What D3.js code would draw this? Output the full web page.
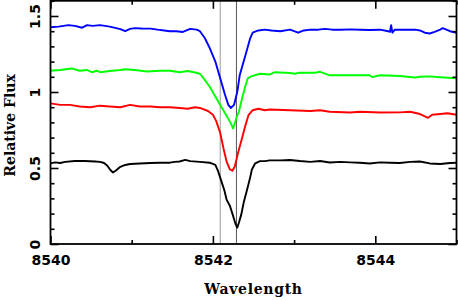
<!DOCTYPE html>
<html>
<head>
<meta charset="utf-8">
<script src="https://cdn.jsdelivr.net/npm/d3@7"></script>
<style>
  body { margin: 0; background: #fff; }
  .tick text { font-family: "DejaVu Sans", sans-serif; font-weight: bold; font-size: 14px; fill: #000; }
  .title { font-family: "DejaVu Serif", serif; font-weight: bold; font-size: 14px; }
</style>
</head>
<body>
<svg id="chart" width="458" height="300"></svg>
<script>
// spectra: [wavelength, relative flux]
var blueSpec = [[8540.00,1.426],[8540.10,1.43],[8540.22,1.44],[8540.30,1.435],[8540.39,1.423],[8540.45,1.44],[8540.52,1.435],[8540.61,1.44],
  [8540.73,1.43],[8540.86,1.414],[8540.92,1.40],[8540.98,1.415],[8541.04,1.42],[8541.12,1.418],[8541.23,1.417],[8541.32,1.41],
  [8541.40,1.405],[8541.47,1.40],[8541.55,1.40],[8541.63,1.395],[8541.72,1.415],[8541.80,1.41],[8541.84,1.40],[8541.90,1.355],
  [8541.96,1.29],[8542.03,1.20],[8542.09,1.09],[8542.15,0.98],[8542.19,0.915],[8542.22,0.895],[8542.26,0.915],[8542.30,1.0],
  [8542.33,1.11],[8542.40,1.24],[8542.46,1.355],[8542.49,1.39],[8542.56,1.405],[8542.64,1.41],[8542.72,1.405],[8542.83,1.40],
  [8542.95,1.41],[8543.05,1.39],[8543.12,1.405],[8543.20,1.41],[8543.30,1.41],[8543.38,1.415],[8543.47,1.41],[8543.57,1.41],
  [8543.69,1.412],[8543.81,1.41],[8543.93,1.408],[8544.06,1.41],[8544.16,1.40],[8544.18,1.395],[8544.195,1.44],[8544.21,1.39],
  [8544.24,1.41],[8544.30,1.41],[8544.43,1.41],[8544.49,1.41],[8544.55,1.405],[8544.61,1.39],[8544.67,1.385],[8544.73,1.395],
  [8544.80,1.41],[8544.83,1.42],[8544.92,1.40],[8545.00,1.39]];

var greenSpec = [[8540.00,1.14],[8540.12,1.145],[8540.26,1.155],[8540.36,1.14],[8540.45,1.145],[8540.51,1.13],[8540.57,1.14],
  [8540.61,1.13],[8540.73,1.138],[8540.86,1.145],[8540.92,1.15],[8541.04,1.145],[8541.19,1.135],[8541.35,1.14],[8541.47,1.14],
  [8541.59,1.13],[8541.69,1.138],[8541.78,1.128],[8541.84,1.12],[8541.90,1.08],[8541.96,1.035],[8542.03,0.97],[8542.09,0.915],
  [8542.15,0.86],[8542.21,0.805],[8542.25,0.76],[8542.29,0.83],[8542.32,0.87],[8542.36,0.96],[8542.40,1.04],[8542.43,1.09],
  [8542.48,1.105],[8542.58,1.12],[8542.70,1.115],[8542.76,1.13],[8542.95,1.125],[8543.01,1.12],[8543.07,1.127],[8543.26,1.127],
  [8543.32,1.133],[8543.44,1.11],[8543.57,1.11],[8543.81,1.11],[8543.93,1.11],[8543.96,1.098],[8544.06,1.11],[8544.30,1.105],
  [8544.49,1.095],[8544.55,1.10],[8544.67,1.103],[8544.80,1.097],[8545.00,1.09]];

var redSpec = [[8540.00,0.925],[8540.12,0.915],[8540.24,0.915],[8540.36,0.905],[8540.49,0.90],[8540.61,0.91],[8540.73,0.905],
  [8540.86,0.90],[8540.98,0.915],[8541.10,0.905],[8541.23,0.905],[8541.35,0.90],[8541.47,0.90],[8541.59,0.895],[8541.69,0.89],
  [8541.78,0.90],[8541.84,0.895],[8541.94,0.875],[8542.00,0.85],[8542.04,0.81],[8542.09,0.73],[8542.13,0.63],[8542.17,0.54],
  [8542.21,0.49],[8542.24,0.482],[8542.27,0.51],[8542.31,0.60],[8542.35,0.68],[8542.40,0.78],[8542.44,0.85],[8542.49,0.88],
  [8542.56,0.89],[8542.64,0.88],[8542.70,0.885],[8542.95,0.88],[8543.20,0.875],[8543.32,0.88],[8543.44,0.87],[8543.69,0.865],
  [8543.81,0.87],[8544.06,0.865],[8544.30,0.866],[8544.43,0.87],[8544.55,0.855],[8544.65,0.83],[8544.70,0.85],[8544.80,0.855],
  [8544.89,0.86],[8545.00,0.85]];

var blackSpec = [[8540.00,0.53],[8540.055,0.537],[8540.12,0.533],[8540.18,0.54],[8540.30,0.546],[8540.42,0.546],[8540.55,0.543],
  [8540.61,0.54],[8540.66,0.533],[8540.70,0.515],[8540.74,0.485],[8540.77,0.47],[8540.81,0.485],[8540.86,0.508],[8540.92,0.52],
  [8540.98,0.526],[8541.10,0.53],[8541.23,0.533],[8541.35,0.535],[8541.47,0.535],[8541.53,0.54],[8541.59,0.543],[8541.66,0.553],
  [8541.72,0.545],[8541.84,0.54],[8541.96,0.535],[8542.03,0.52],[8542.06,0.485],[8542.10,0.42],[8542.14,0.355],[8542.17,0.29],
  [8542.21,0.25],[8542.24,0.2],[8542.26,0.165],[8542.28,0.13],[8542.30,0.108],[8542.32,0.14],[8542.35,0.195],[8542.38,0.275],
  [8542.42,0.355],[8542.46,0.44],[8542.48,0.49],[8542.52,0.53],[8542.58,0.545],[8542.64,0.545],[8542.70,0.55],[8542.83,0.55],
  [8542.95,0.553],[8543.07,0.546],[8543.20,0.54],[8543.32,0.546],[8543.44,0.536],[8543.57,0.54],[8543.69,0.537],[8543.81,0.535],
  [8543.93,0.53],[8544.06,0.537],[8544.18,0.535],[8544.30,0.533],[8544.43,0.54],[8544.55,0.543],[8544.67,0.53],[8544.80,0.526],
  [8544.92,0.533],[8545.00,0.535]];

var series = [
  { data: blueSpec, color: "#0000ff" },
  { data: greenSpec, color: "#00ff00" },
  { data: redSpec, color: "#ff0000" },
  { data: blackSpec, color: "#000000" }
];

var markerLines = [8542.09, 8542.29];
var markerColors = ["#999", "#555"];

var xMajor = [8540, 8542, 8544];
var xMinor = [8541, 8543, 8545];
var yMajor = [0, 0.5, 1, 1.5];
var yMinor = [0.1, 0.2, 0.3, 0.4, 0.6, 0.7, 0.8, 0.9, 1.1, 1.2, 1.3, 1.4, 1.6];

var svg = d3.select("#chart");

var x = d3.scaleLinear().domain([8540, 8545]).range([50.5, 456.5]);
var y = d3.scaleLinear().domain([0, 1.6]).range([244, 0.8]);

// vertical reference lines
svg.selectAll("line.marker")
  .data(markerLines)
  .enter().append("line")
  .attr("class", "marker")
  .attr("x1", function(d) { return x(d); })
  .attr("x2", function(d) { return x(d); })
  .attr("y1", y.range()[0])
  .attr("y2", y.range()[1])
  .attr("stroke", function(d, i) { return markerColors[i]; })
  .attr("stroke-width", 1);

var line = d3.line()
  .x(function(d) { return x(d[0]); })
  .y(function(d) { return y(d[1]); });

svg.selectAll("path.spec")
  .data(series)
  .enter().append("path")
  .attr("class", "spec")
  .attr("d", function(d) { return line(d.data); })
  .attr("fill", "none")
  .attr("stroke", function(d) { return d.color; })
  .attr("stroke-width", 1.9)
  .attr("stroke-linejoin", "round");

// ticks point inwards on all four sides
function ticks(axis, vals, size, tx, ty) {
  var g = svg.append("g")
    .attr("transform", "translate(" + tx + "," + ty + ")")
    .call(axis.tickValues(vals).tickSizeInner(size).tickSizeOuter(0));
  g.select(".domain").remove();
  g.selectAll(".tick line").attr("stroke", "#000").attr("stroke-width", 1.6);
  return g;
}

var bottom = ticks(d3.axisBottom(x).tickFormat(d3.format("d")).tickPadding(11), xMajor, -8, 0, y(0));
ticks(d3.axisBottom(x).tickFormat(""), xMinor, -4, 0, y(0));
ticks(d3.axisTop(x).tickFormat(""), xMajor, -8, 0, y(1.6));
ticks(d3.axisTop(x).tickFormat(""), xMinor, -4, 0, y(1.6));

var left = ticks(d3.axisLeft(y).tickFormat(d3.format("")), yMajor, -8, x(8540), 0);
ticks(d3.axisLeft(y).tickFormat(""), yMinor, -4, x(8540), 0);
ticks(d3.axisRight(y).tickFormat(""), yMajor, -8, x(8545), 0);
ticks(d3.axisRight(y).tickFormat(""), yMinor, -4, x(8545), 0);

bottom.selectAll("text").attr("dy", "0.71em");

left.selectAll(".tick text")
  .attr("x", 0)
  .attr("dy", 0)
  .attr("text-anchor", "middle")
  .attr("transform", "translate(-10.5,0) rotate(-90)");

// frame
svg.append("rect")
  .attr("x", x(8540))
  .attr("y", y(1.6))
  .attr("width", x(8545) - x(8540))
  .attr("height", y(0) - y(1.6))
  .attr("fill", "none")
  .attr("stroke", "#000")
  .attr("stroke-width", 1.8);

svg.append("text")
  .attr("class", "title")
  .attr("x", (x(8540) + x(8545)) / 2)
  .attr("y", 294)
  .attr("text-anchor", "middle")
  .style("letter-spacing", "0.7px")
  .text("Wavelength");

svg.append("text")
  .attr("class", "title")
  .attr("text-anchor", "middle")
  .attr("transform", "translate(15," + y(0.78) + ") rotate(-90)")
  .text("Relative Flux");
</script>
</body>
</html>
